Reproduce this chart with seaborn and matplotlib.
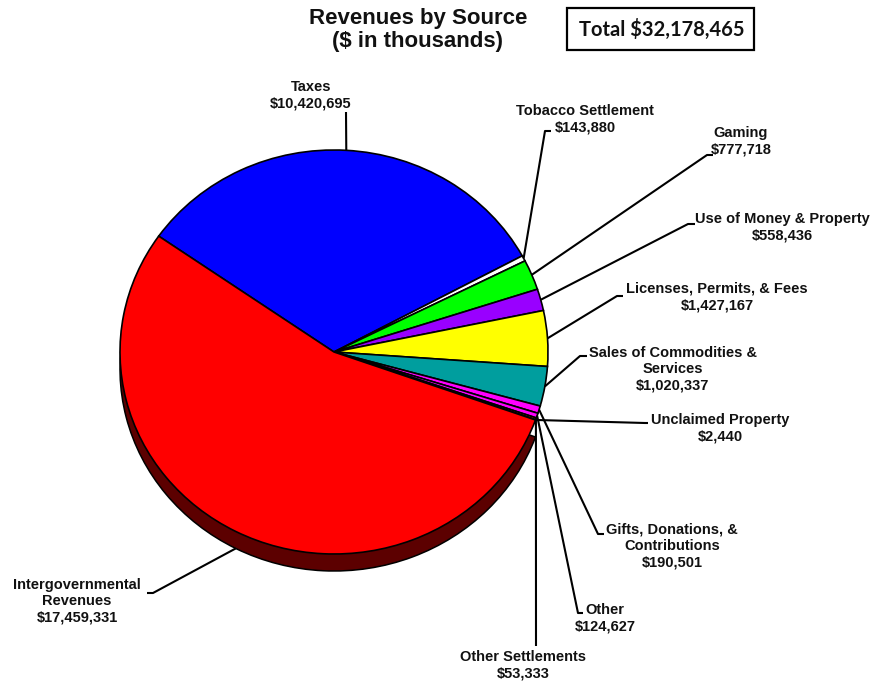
import matplotlib.pyplot as plt
import matplotlib.patches as mpatches
import numpy as np
import seaborn as sns

# ── Data ─────────────────────────────────────────────────────────────────────
sources = [
    "Taxes", "Tobacco Settlement", "Gaming", "Use of Money & Property",
    "Licenses, Permits, & Fees", "Sales of Commodities &\nServices",
    "Gifts, Donations, &\nContributions", "Other", "Other Settlements",
    "Unclaimed Property", "Intergovernmental\nRevenues",
]
amounts = [10420695, 143880, 777718, 558436, 1427167, 1020337,
           190501, 124627, 53333, 2440, 17459331]
total = 32178465

# ── Styles / layout ──────────────────────────────────────────────────────────
colors = ["#0000FF", "#FFFFFF", "#00FF00", "#9900FF", "#FFFF00", "#009E9E",
          "#FF00FF", "#FF00FF", "#E00000", "#FFFFFF", "#FF0000"]
# label centre, leader elbow, leader end (pixel coords, y down)
label_pos = [(311, 95), (585, 119), (741, 141), (782, 227), (717, 297),
             (673, 369), (672, 546), (605, 618), (523, 665), (720, 428), (77, 601)]
elbows = [(346, 112), (545, 131), (707, 155), (688, 224), (617, 296),
          (580, 356), (598, 534), (578, 613), (536, 646), (645, 423), (153, 593)]
ends = [(346, 112), (551, 131), (713, 155), (695, 224), (623, 296),
        (587, 356), (604, 534), (583, 613), (536, 646), (648, 423), (147, 593)]

sns.set_theme(style="white")
plt.rcParams["font.family"] = ["Liberation Sans", "DejaVu Sans"]

W, H = 884, 681
R = 214            # horizontal radius in px
SY = 214 / 202     # vertical squash of the pie
DEPTH = 17
cx, cy = 334, -352 * SY


def py(y):
    return -y * SY


fig = plt.figure(figsize=(W / 100, H / 100), dpi=100)
ax = fig.add_axes([0, 0, 1, 1])

# depth (side) of the pie, only visible under the big red slice
depth_w, _ = ax.pie(amounts, startangle=145, counterclock=False, radius=R,
                    center=(cx, cy - DEPTH * SY),
                    wedgeprops=dict(edgecolor="black", linewidth=1.1))
for i, w in enumerate(depth_w):
    if i == len(amounts) - 1:
        w.set_facecolor("#5C0000")
    else:
        w.set_facecolor("none")
        w.set_edgecolor("none")

wedges, _ = ax.pie(amounts, colors=colors, startangle=145, counterclock=False,
                   radius=R, center=(cx, cy),
                   wedgeprops=dict(edgecolor="black", linewidth=1.2))

# ── Leader lines + labels ────────────────────────────────────────────────────
for i, w in enumerate(wedges):
    mid = np.deg2rad((w.theta1 + w.theta2) / 2)
    ax_ = cx + R * np.cos(mid)
    ay_ = cy + R * np.sin(mid)
    if i == len(amounts) - 1:
        ay_ -= DEPTH * SY
    ex, ey = elbows[i]
    tx, ty = ends[i]
    ax.plot([ax_, ex, tx], [ay_, py(ey), py(ty)], color="black", lw=1.5,
            solid_capstyle="butt")
    lx, ly = label_pos[i]
    ax.text(lx, py(ly), f"{sources[i]}\n${amounts[i]:,.0f}", ha="center",
            va="center", fontsize=10.5, fontweight="bold", linespacing=1.2,
            color="#111111")

# ── Title + total box ────────────────────────────────────────────────────────
ax.text(418, py(30), "Revenues by Source\n($ in thousands)", ha="center",
        va="center", fontsize=16, fontweight="bold", linespacing=1.1,
        color="#111111")
ax.add_patch(mpatches.Rectangle((567, py(50)), 187, 42 * SY, fill=False,
                                edgecolor="black", lw=1.6))
ax.text(662, py(29), f"Total ${total:,.0f}", ha="center", va="center",
        fontsize=14.5, fontweight="bold", family=["Lato", "DejaVu Sans"],
        color="#111111")

ax.set_xlim(0, W)
ax.set_ylim(-H * SY, 0)
ax.set_aspect("auto")
ax.axis("off")

plt.savefig("out.png", dpi=100)
plt.close()
